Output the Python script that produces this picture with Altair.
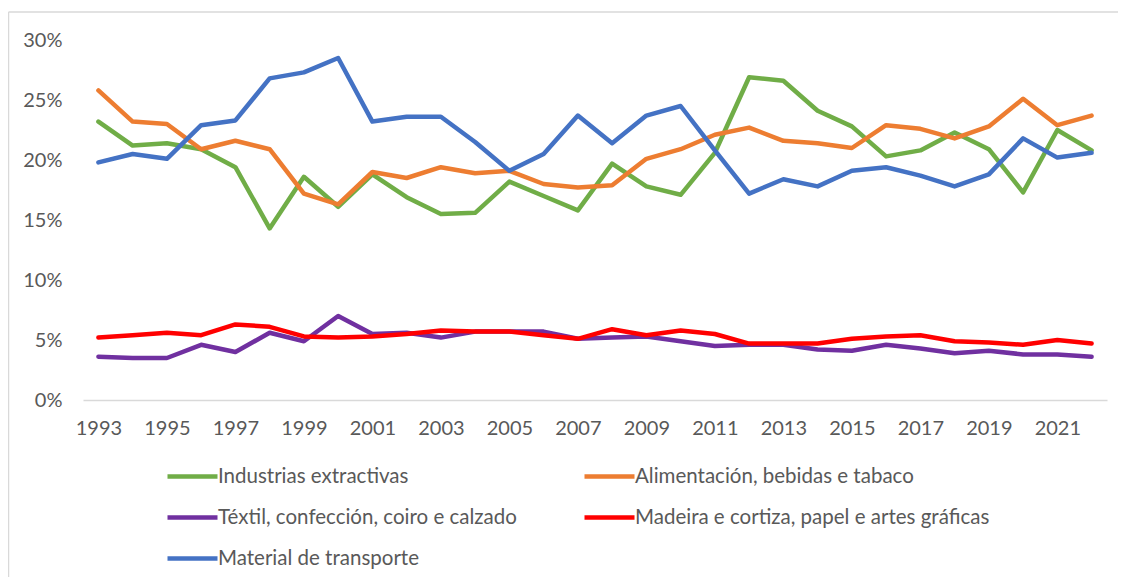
import altair as alt
import pandas as pd

years = list(range(1993, 2023))

series_names = [
    "Industrias extractivas",
    "Alimentación, bebidas e tabaco",
    "Téxtil, confección, coiro e calzado",
    "Madeira e cortiza, papel e artes gráficas",
    "Material de transporte",
]
series_colors = ["#70AD47", "#ED7D31", "#7030A0", "#FF0000", "#4472C4"]

extractivas = [23.2, 21.2, 21.4, 20.9, 19.4, 14.3, 18.6, 16.1, 18.8, 16.9,
               15.5, 15.6, 18.2, 17.0, 15.8, 19.7, 17.8, 17.1, 20.6, 26.9,
               26.6, 24.1, 22.8, 20.3, 20.8, 22.3, 20.9, 17.3, 22.5, 20.8]
alimentacion = [25.8, 23.2, 23.0, 20.9, 21.6, 20.9, 17.2, 16.3, 19.0, 18.5,
                19.4, 18.9, 19.1, 18.0, 17.7, 17.9, 20.1, 20.9, 22.1, 22.7,
                21.6, 21.4, 21.0, 22.9, 22.6, 21.8, 22.8, 25.1, 22.9, 23.7]
textil = [3.6, 3.5, 3.5, 4.6, 4.0, 5.6, 4.9, 7.0, 5.5, 5.6,
          5.2, 5.7, 5.7, 5.7, 5.1, 5.2, 5.3, 4.9, 4.5, 4.6,
          4.6, 4.2, 4.1, 4.6, 4.3, 3.9, 4.1, 3.8, 3.8, 3.6]
madeira = [5.2, 5.4, 5.6, 5.4, 6.3, 6.1, 5.3, 5.2, 5.3, 5.5,
           5.8, 5.7, 5.7, 5.4, 5.1, 5.9, 5.4, 5.8, 5.5, 4.7,
           4.7, 4.7, 5.1, 5.3, 5.4, 4.9, 4.8, 4.6, 5.0, 4.7]
transporte = [19.8, 20.5, 20.1, 22.9, 23.3, 26.8, 27.3, 28.5, 23.2, 23.6,
              23.6, 21.5, 19.1, 20.5, 23.7, 21.4, 23.7, 24.5, 20.8, 17.2,
              18.4, 17.8, 19.1, 19.4, 18.7, 17.8, 18.8, 21.8, 20.2, 20.6]

x_tick_years = list(range(1993, 2023, 2))
y_ticks = [0, 5, 10, 15, 20, 25, 30]

all_values = [extractivas, alimentacion, textil, madeira, transporte]
rows = []
for order, (name, vals) in enumerate(zip(series_names, all_values)):
    for yr, v in zip(years, vals):
        rows.append({"year": yr, "value": v, "series": name, "ord": order})
df = pd.DataFrame(rows)

FONT = "Lato"
LABEL_COLOR = "#595959"

lines = alt.Chart(df).mark_line(
    strokeWidth=4.5, strokeJoin="round", strokeCap="round"
).encode(
    x=alt.X(
        "year:O",
        scale=alt.Scale(type="point", padding=0.45),
        axis=alt.Axis(
            values=x_tick_years, title=None, labelAngle=0, ticks=False,
            domain=True, domainColor="#D9D9D9", domainWidth=1.5,
            labelFont=FONT, labelFontSize=20, labelColor=LABEL_COLOR,
            labelPadding=18, grid=False,
        ),
    ),
    y=alt.Y(
        "value:Q",
        scale=alt.Scale(domain=[0, 30], nice=False),
        axis=alt.Axis(
            values=y_ticks, labelExpr="datum.value + '%'", title=None,
            ticks=False, domain=False, grid=False,
            labelFont=FONT, labelFontSize=20, labelColor=LABEL_COLOR,
            labelPadding=21,
        ),
    ),
    color=alt.Color(
        "series:N",
        scale=alt.Scale(domain=series_names, range=series_colors),
        sort=series_names,
        legend=alt.Legend(
            title=None, orient="none", legendX=97, legendY=424,
            direction="horizontal",
            columns=2, columnPadding=58, rowPadding=18,
            symbolType="M-2.5,0L2.5,0", symbolSize=400,
            symbolStrokeWidth=4.5, labelOffset=13,
            labelFont=FONT, labelFontSize=20.5, labelColor=LABEL_COLOR,
            labelLimit=600,
        ),
    ),
    detail="ord:O",
)

border_df = pd.DataFrame({"a": [0]})
left_border = alt.Chart(border_df).mark_rule(color="#D9D9D9", strokeWidth=1.5).encode(
    x=alt.value(-74.5), y=alt.value(-28), y2=alt.value(560)
)
top_border = alt.Chart(border_df).mark_rule(color="#D9D9D9", strokeWidth=1.5).encode(
    x=alt.value(-74.5), x2=alt.value(1040), y=alt.value(-28)
)

chart = alt.layer(left_border, top_border, lines).properties(
    width=1024, height=360,
    autosize=alt.AutoSizeParams(type="none"),
    padding={"left": 75, "top": 32, "right": 11, "bottom": 177},
).configure_view(stroke=None)

chart.save("out.html", embed_options={"renderer": "svg", "actions": False})
